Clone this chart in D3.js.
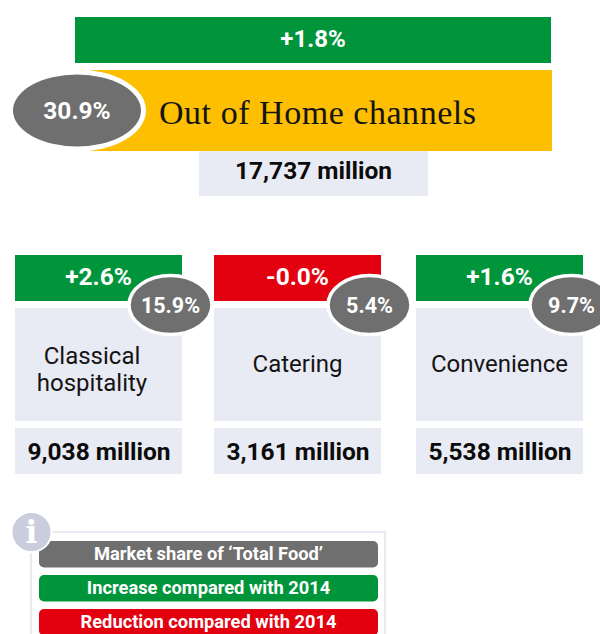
<!DOCTYPE html>
<html>
<head>
<meta charset="utf-8">
<script src="https://cdn.jsdelivr.net/npm/d3@7"></script>
<style>
  body { margin: 0; background: #fff; }
  svg { display: block; }
  text { font-family: Roboto, sans-serif; }
</style>
</head>
<body>
<div id="plot"></div>
<script>
var svgWidth = 600;
var svgHeight = 634;

// data
var channels = ["Classical hospitality", "Catering", "Convenience"];
var channelLines = [["Classical", "hospitality"], ["Catering"], ["Convenience"]];
var channelChange = [2.6, -0.0, 1.6];
var channelShare = [15.9, 5.4, 9.7];
var channelMillions = [9038, 3161, 5538];

var totalName = "Out of Home channels";
var totalChange = 1.8;
var totalShare = 30.9;
var totalMillions = 17737;

var legendLabels = ["Market share of \u2018Total Food\u2019", "Increase compared with 2014", "Reduction compared with 2014"];

var green = "#00953b";
var red = "#e3000f";
var yellow = "#fdbf00";
var gray = "#6f6f6f";
var light = "#e9ebf4";

var legendColor = d3.scaleOrdinal().domain(legendLabels).range([gray, green, red]);

var cardX = d3.scaleOrdinal().domain(channels).range([15, 214, 416]);
var cardWidth = 167;

var svg = d3
  .select("#plot")
  .append("svg")
  .attr("width", svgWidth)
  .attr("height", svgHeight);

function isDown(v) {
  return v < 0 || Object.is(v, -0);
}
function changeText(v) {
  return (isDown(v) ? "-" : "+") + d3.format(".1f")(Math.abs(v)) + "%";
}
function millionText(v) {
  return d3.format(",")(v) + " million";
}
function addRect(g, x, y, w, h, fill) {
  return g.append("rect")
    .attr("x", x).attr("y", y)
    .attr("width", w).attr("height", h)
    .attr("fill", fill);
}
function addText(g, x, y, str, size, weight, fill) {
  return g.append("text")
    .attr("x", x).attr("y", y)
    .attr("text-anchor", "middle")
    .attr("font-size", size)
    .attr("font-weight", weight)
    .attr("fill", fill)
    .text(str);
}
function addBadge(g, cx, cy, rx, ry, border, str, size) {
  g.append("ellipse")
    .attr("cx", cx).attr("cy", cy)
    .attr("rx", rx).attr("ry", ry)
    .attr("fill", gray)
    .attr("stroke", "#fff")
    .attr("stroke-width", border);
  addText(g, cx, cy + size * 0.36, str, size, 700, "#fff");
}

// top block
var topBlock = svg.append("g");
addRect(topBlock, 75, 17, 476, 46, green);
addText(topBlock, 313, 47, changeText(totalChange), 24, 700, "#fff");
addRect(topBlock, 84, 70, 468, 81, yellow);
addRect(topBlock, 199, 151, 229, 45, light);
addText(topBlock, 313.5, 179, millionText(totalMillions), 24.5, 700, "#0b0b0b");
topBlock.append("ellipse")
  .attr("cx", 77).attr("cy", 110.5)
  .attr("rx", 69).attr("ry", 41)
  .attr("fill", "#fff");
addBadge(topBlock, 77, 110.5, 64, 36, 0, totalShare + "%", 24.5);
topBlock.append("text")
  .attr("x", 159).attr("y", 124)
  .attr("font-size", 34)
  .attr("fill", "#141414")
  .style("font-family", "'Liberation Serif', serif")
  .attr("textLength", 317)
  .text(totalName);

// channel cards
channels.forEach(function(name, i) {
  var x = cardX(name);
  var card = svg.append("g");
  addRect(card, x, 255, cardWidth, 46, isDown(channelChange[i]) ? red : green);
  addRect(card, x, 308, cardWidth, 113, light);
  addRect(card, x, 428, cardWidth, 46, light);
  addText(card, x + 83.5, 285, changeText(channelChange[i]), 24.5, 700, "#fff");
  addText(card, x + 84, 460, millionText(channelMillions[i]), 24.5, 700, "#0b0b0b");
  var lines = channelLines[i];
  lines.forEach(function(line, j) {
    var ty = lines.length > 1 ? 364 + j * 27 : 372;
    addText(card, i == 0 ? x + 77 : x + 83.5, ty, line, 24, 400, "#141414");
  });
  addBadge(card, x + 155.5, 305, 41.5, 29.5, 3.5, channelShare[i] + "%", 21.5);
});

// legend
var legend = svg.append("g");
legend.append("rect")
  .attr("x", 31).attr("y", 532)
  .attr("width", 354).attr("height", 120)
  .attr("fill", "none")
  .attr("stroke", light)
  .attr("stroke-width", 2);
legendLabels.forEach(function(label, i) {
  var y = 541 + i * 34;
  addRect(legend, 39, y, 339, 26.5, legendColor(label)).attr("rx", 5);
  addText(legend, 208.5, y + 19, label, 18.3, 700, "#fff");
});
legend.append("circle")
  .attr("cx", 31.5).attr("cy", 532)
  .attr("r", 20)
  .attr("fill", "#c9cddd")
  .attr("stroke", "#fff")
  .attr("stroke-width", 2);
addText(legend, 31.5, 543, "i", 31, 700, "#fff").style("font-family", "'DejaVu Serif', serif");
</script>
</body>
</html>
